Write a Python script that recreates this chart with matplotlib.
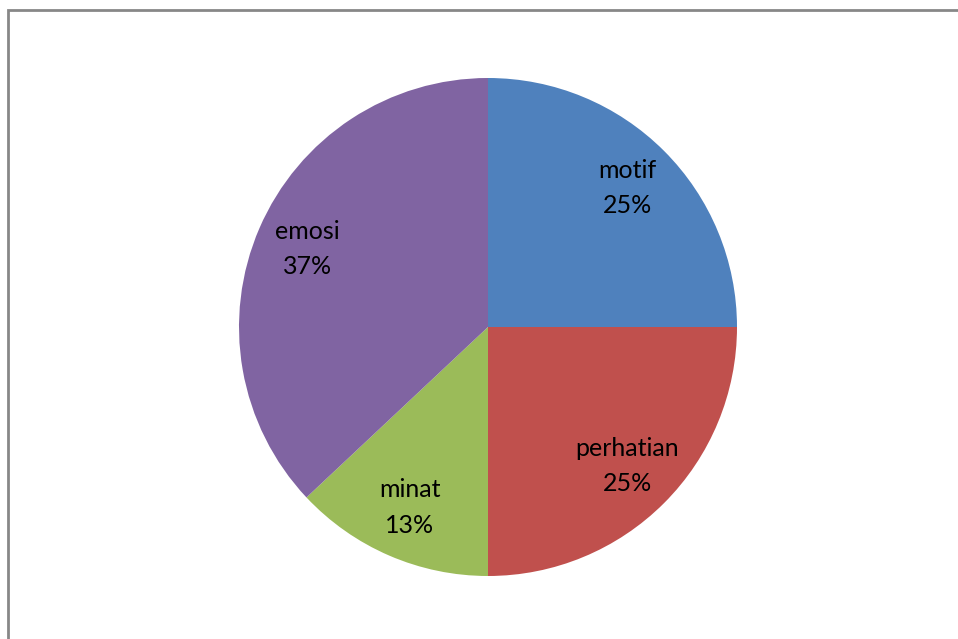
import matplotlib.pyplot as plt
from matplotlib.patches import Rectangle

labels = ["motif", "perhatian", "minat", "emosi"]
values = [25, 25, 13, 37]
colors = ["#4F81BD", "#C0504D", "#9BBB59", "#8064A2"]

plt.rcParams['font.family'] = ['Lato', 'DejaVu Sans']

fig = plt.figure(figsize=(9.58, 6.39), dpi=100)
fig.patch.set_facecolor("white")

# chart frame (cropped at right and bottom)
fig.patches.append(Rectangle((7.5 / 958, -0.05), 1.1, 1 - 9.5 / 639 + 0.05,
                             transform=fig.transFigure, fill=False,
                             edgecolor="#878787", linewidth=2))

ax = fig.add_axes([(488 - 249) / 958, (312 - 249) / 639, 498 / 958, 498 / 639])
texts = [f"{l}\n{v}%" for l, v in zip(labels, values)]
wedges, lbls = ax.pie(values, labels=texts, colors=colors, startangle=90,
                      counterclock=False, labeldistance=0.79,
                      wedgeprops=dict(linewidth=0),
                      textprops=dict(fontsize=18, color="black",
                                     ha="center", va="center", linespacing=1.65))
for t in lbls:
    t.set_horizontalalignment("center")
ax.set_xlim(-1, 1)
ax.set_ylim(-1, 1)
ax.set_aspect("equal")
ax.axis("off")

fig.savefig("out.png", dpi=100)
